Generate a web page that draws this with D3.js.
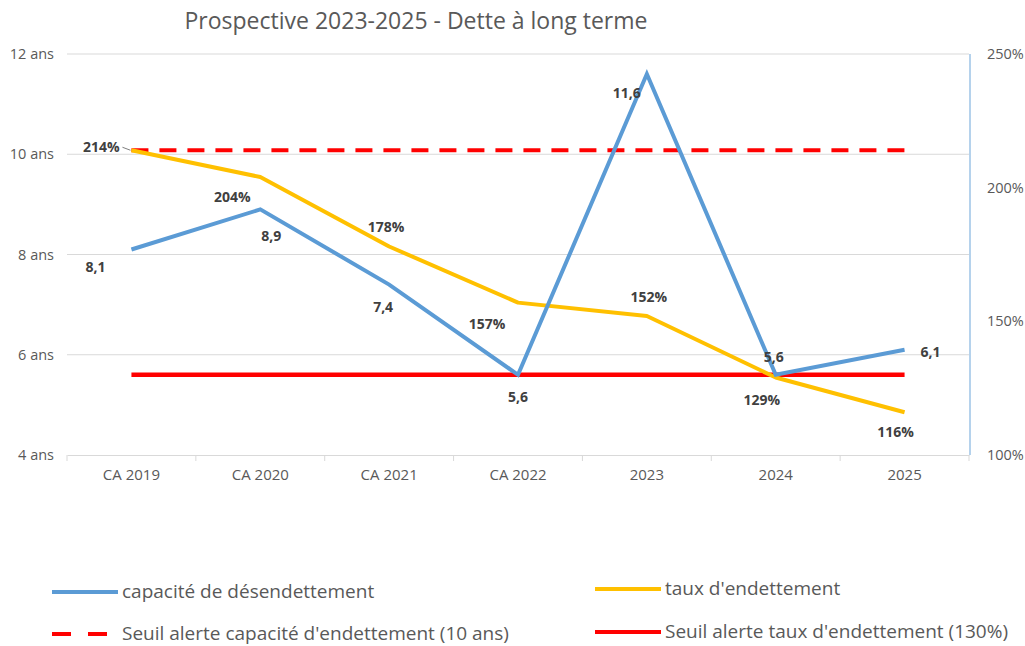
<!DOCTYPE html>
<html>
<head>
<meta charset="utf-8">
<script src="https://cdn.jsdelivr.net/npm/d3@7"></script>
<style>
  body { margin: 0; background: #fff; }
  svg { font-family: "Open Sans", "DejaVu Sans", sans-serif; }
</style>
</head>
<body>
<svg id="chart" width="1025" height="646"></svg>
<script>
// Data
const categories = ["CA 2019", "CA 2020", "CA 2021", "CA 2022", "2023", "2024", "2025"];
const capacite = [8.1, 8.9, 7.4, 5.6, 11.6, 5.6, 6.1];      // years (left axis)
const taux = [214, 204, 178, 157, 152, 129, 116];           // % (right axis)
const seuilCapacite = [214, 214, 214, 214, 214, 214, 214];  // drawn on right axis in the source
const seuilTaux = [130, 130, 130, 130, 130, 130, 130];
const leftTicks = [4, 6, 8, 10, 12];
const rightTicks = [100, 150, 200, 250];

const svg = d3.select("#chart");
const margin = { top: 54, right: 56, bottom: 191, left: 67 };
const width = 1025 - margin.left - margin.right;
const height = 646 - margin.top - margin.bottom;

// Title
svg.append("text")
    .attr("x", 416).attr("y", 29)
    .attr("text-anchor", "middle")
    .attr("font-size", 23)
    .attr("fill", "#595959")
    .text("Prospective 2023-2025 - Dette à long terme");

const g = svg.append("g").attr("transform", `translate(${margin.left},${margin.top})`);

const x = d3.scaleBand().domain(categories).range([0, width]);
const cx = d => x(d) + x.bandwidth() / 2;
const yL = d3.scaleLinear().domain([4, 12]).range([height, 0]);
const yR = d3.scaleLinear().domain([100, 250]).range([height, 0]);

// Gridlines
g.selectAll(".grid").data(leftTicks.slice(1)).enter()
    .append("line")
    .attr("x1", 0).attr("x2", width)
    .attr("y1", d => yL(d)).attr("y2", d => yL(d))
    .attr("stroke", "#d9d9d9").attr("stroke-width", 1);

// Left axis labels
g.selectAll(".ltick").data(leftTicks).enter()
    .append("text")
    .attr("x", -13).attr("y", d => yL(d) + 5)
    .attr("text-anchor", "end")
    .attr("font-size", 14.5)
    .attr("fill", "#595959")
    .text(d => d + " ans");

// Right axis
g.append("line")
    .attr("x1", width + 1).attr("x2", width + 1)
    .attr("y1", 0).attr("y2", height)
    .attr("stroke", "#9dc3e6").attr("stroke-width", 1.5);
g.selectAll(".rtick").data(rightTicks).enter()
    .append("text")
    .attr("x", width + 18).attr("y", d => yR(d) + 5)
    .attr("font-size", 14.5)
    .attr("fill", "#595959")
    .text(d => d + "%");

// Bottom axis
const xAxis = g.append("g").attr("transform", `translate(0,${height})`)
    .call(d3.axisBottom(x).tickSize(0).tickPadding(14));
xAxis.select(".domain").attr("stroke", "#d9d9d9");
xAxis.selectAll("text").attr("font-size", 15).attr("fill", "#595959")
    .attr("font-family", "Open Sans, sans-serif");
xAxis.selectAll(".sep").data(categories.concat(["end"])).enter()
    .append("line")
    .attr("x1", (d, i) => i * x.bandwidth()).attr("x2", (d, i) => i * x.bandwidth())
    .attr("y1", 0).attr("y2", 6)
    .attr("stroke", "#d9d9d9");

// Series
const lineL = d3.line().x((d, i) => cx(categories[i])).y(d => yL(d));
const lineR = d3.line().x((d, i) => cx(categories[i])).y(d => yR(d));

g.append("path").datum(seuilCapacite).attr("d", lineR)
    .attr("fill", "none").attr("stroke", "#ff0000").attr("stroke-width", 4)
    .attr("stroke-dasharray", "17,11");
g.append("path").datum(seuilTaux).attr("d", lineR)
    .attr("fill", "none").attr("stroke", "#ff0000").attr("stroke-width", 4.5);
g.append("path").datum(taux).attr("d", lineR)
    .attr("fill", "none").attr("stroke", "#ffc000").attr("stroke-width", 4)
    .attr("stroke-linejoin", "round");
g.append("path").datum(capacite).attr("d", lineL)
    .attr("fill", "none").attr("stroke", "#5b9bd5").attr("stroke-width", 4)
    .attr("stroke-linejoin", "miter");

// Data labels: offsets relative to the point
const capOffsets = [[-36, 18], [11, 27], [-6, 22], [0, 22], [-20, 19], [-2, -18], [26, 2]];
const tauxOffsets = [[-30, -3], [-28, 20], [-3, -19], [-31, 21], [2, -19], [-14, 23], [-9, 20]];

g.selectAll(".capLbl").data(capacite).enter()
    .append("text")
    .attr("x", (d, i) => cx(categories[i]) + capOffsets[i][0])
    .attr("y", (d, i) => yL(d) + capOffsets[i][1] + 5)
    .attr("text-anchor", "middle")
    .attr("font-size", 14).attr("font-weight", "bold")
    .attr("fill", "#404040")
    .text(d => String(d).replace(".", ","));

g.selectAll(".tauxLbl").data(taux).enter()
    .append("text")
    .attr("x", (d, i) => cx(categories[i]) + tauxOffsets[i][0])
    .attr("y", (d, i) => yR(d) + tauxOffsets[i][1] + 5)
    .attr("text-anchor", "middle")
    .attr("font-size", 14).attr("font-weight", "bold")
    .attr("fill", "#404040")
    .text(d => d + "%");

// leader line for 214%
g.append("path")
    .attr("d", `M${cx(categories[0]) - 9},${yR(taux[0]) - 3} L${cx(categories[0]) - 1},${yR(taux[0])}`)
    .attr("stroke", "#7f7f7f").attr("fill", "none").attr("stroke-width", 1);

// Legend
const legend = [
    { label: "capacité de désendettement", color: "#5b9bd5", dash: null, x: 52, y: 592 },
    { label: "taux d'endettement", color: "#ffc000", dash: null, x: 595, y: 589 },
    { label: "Seuil alerte capacité d'endettement (10 ans)", color: "#ff0000", dash: "19,17", x: 52, y: 634 },
    { label: "Seuil alerte taux d'endettement (130%)", color: "#ff0000", dash: null, x: 595, y: 632 }
];
const lg = svg.selectAll(".legend").data(legend).enter().append("g");
lg.append("line")
    .attr("x1", d => d.x).attr("x2", d => d.x + (d.dash ? 56 : 66))
    .attr("y1", d => d.y).attr("y2", d => d.y)
    .attr("stroke", d => d.color).attr("stroke-width", 4)
    .attr("stroke-dasharray", d => d.dash);
lg.append("text")
    .attr("x", d => d.x + 70).attr("y", d => d.y + 6)
    .attr("font-size", 19).attr("fill", "#595959")
    .text(d => d.label);
</script>
</body>
</html>
